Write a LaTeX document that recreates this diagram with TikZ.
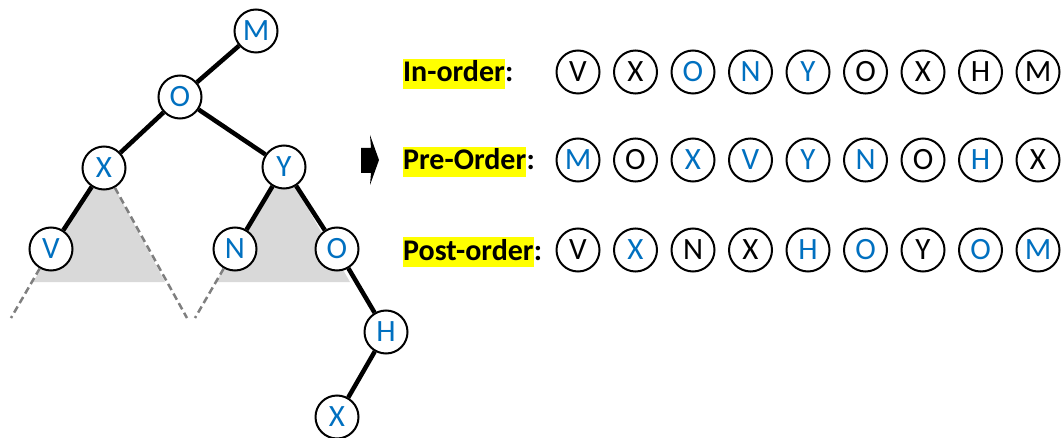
\documentclass[tikz,border=0pt]{standalone}
\usepackage{fontspec}
\setmainfont{Carlito}
\definecolor{ob}{HTML}{0070C0}
\definecolor{tri}{HTML}{D9D9D9}
\definecolor{dsh}{HTML}{7F7F7F}
\definecolor{hl}{HTML}{FFFF00}
\tikzset{
  tnode/.style={circle, draw=black, line width=2pt, fill=white, minimum size=43pt, inner sep=0pt, text=ob, font=\fontsize{31}{36}\selectfont},
  snode/.style={circle, draw=black, line width=2pt, fill=white, minimum size=43pt, inner sep=0pt, font=\fontsize{31}{36}\selectfont},
  edge/.style={line width=4.5pt, black},
  dline/.style={line width=2.5pt, dsh, dash pattern=on 7pt off 4pt},
  lab/.style={fill=hl, inner xsep=0pt, inner ysep=0pt, text height=23pt, text depth=7pt, font=\fontsize{30}{34}\selectfont\bfseries, anchor=base west},
  colon/.style={inner sep=0pt, font=\fontsize{30}{34}\selectfont\bfseries, anchor=base west}
}
\begin{document}
\begin{tikzpicture}[x=1pt,y=-1pt]
\useasboundingbox (0,0) rectangle (1064,438);
% gray triangles
\fill[tri] (104,168) -- (33,282) -- (165,282) -- cycle;
\fill[tri] (284,167) -- (216,282) -- (350,282) -- cycle;
% tree nodes
\node[tnode] (M) at (256,31) {M};
\node[tnode] (O) at (180,97) {O};
\node[tnode] (X) at (104,168) {X};
\node[tnode] (Y) at (284,167) {Y};
\node[tnode] (V) at (51,249) {V};
\node[tnode] (N) at (235,249) {N};
\node[tnode] (O2) at (337,249) {O};
\node[tnode] (H) at (386,332) {H};
\node[tnode] (X2) at (337,417) {X};
\coordinate (dv) at (11,318);
\coordinate (dx) at (187,318);
\coordinate (dn) at (195,318);
% edges
\draw[edge] (M) -- (O);
\draw[edge] (O) -- (X);
\draw[edge] (O) -- (Y);
\draw[edge] (X) -- (V);
\draw[edge] (Y) -- (N);
\draw[edge] (Y) -- (O2);
\draw[edge] (O2) -- (H);
\draw[edge] (H) -- (X2);
% dashed lines
\draw[dline] (V) -- (dv);
\draw[dline] (X) -- (dx);
\draw[dline] (N) -- (dn);
% arrow
\fill[black] (361,148) -- (371,148) -- (370,135) -- (379,160) -- (370,185) -- (371,173) -- (361,173) -- cycle;
% labels
\node[lab] (l1) at (403,82) {In-order};
\node[colon] (c1) at (l1.base east) {:};
\node[lab] (l2) at (403,170) {Pre-Order};
\node[colon] (c2) at (l2.base east) {:};
\node[lab] (l3) at (403,260) {Post-order};
\node[colon] (c3) at (l3.base east) {:};
% sequences
\foreach \t/\c [count=\i] in {V/black,X/black,O/ob,N/ob,Y/ob,O/black,X/black,H/black,M/black}
  \node[snode, text=\c] (i\i) at ({578+57.5*(\i-1)},72) {\t};
\foreach \t/\c [count=\i] in {M/ob,O/black,X/ob,V/ob,Y/ob,N/ob,O/black,H/ob,X/black}
  \node[snode, text=\c] (p\i) at ({578+57.5*(\i-1)},160) {\t};
\foreach \t/\c [count=\i] in {V/black,X/ob,N/black,X/black,H/ob,O/ob,Y/black,O/ob,M/ob}
  \node[snode, text=\c] (q\i) at ({578+57.5*(\i-1)},250) {\t};
\end{tikzpicture}
\end{document}
